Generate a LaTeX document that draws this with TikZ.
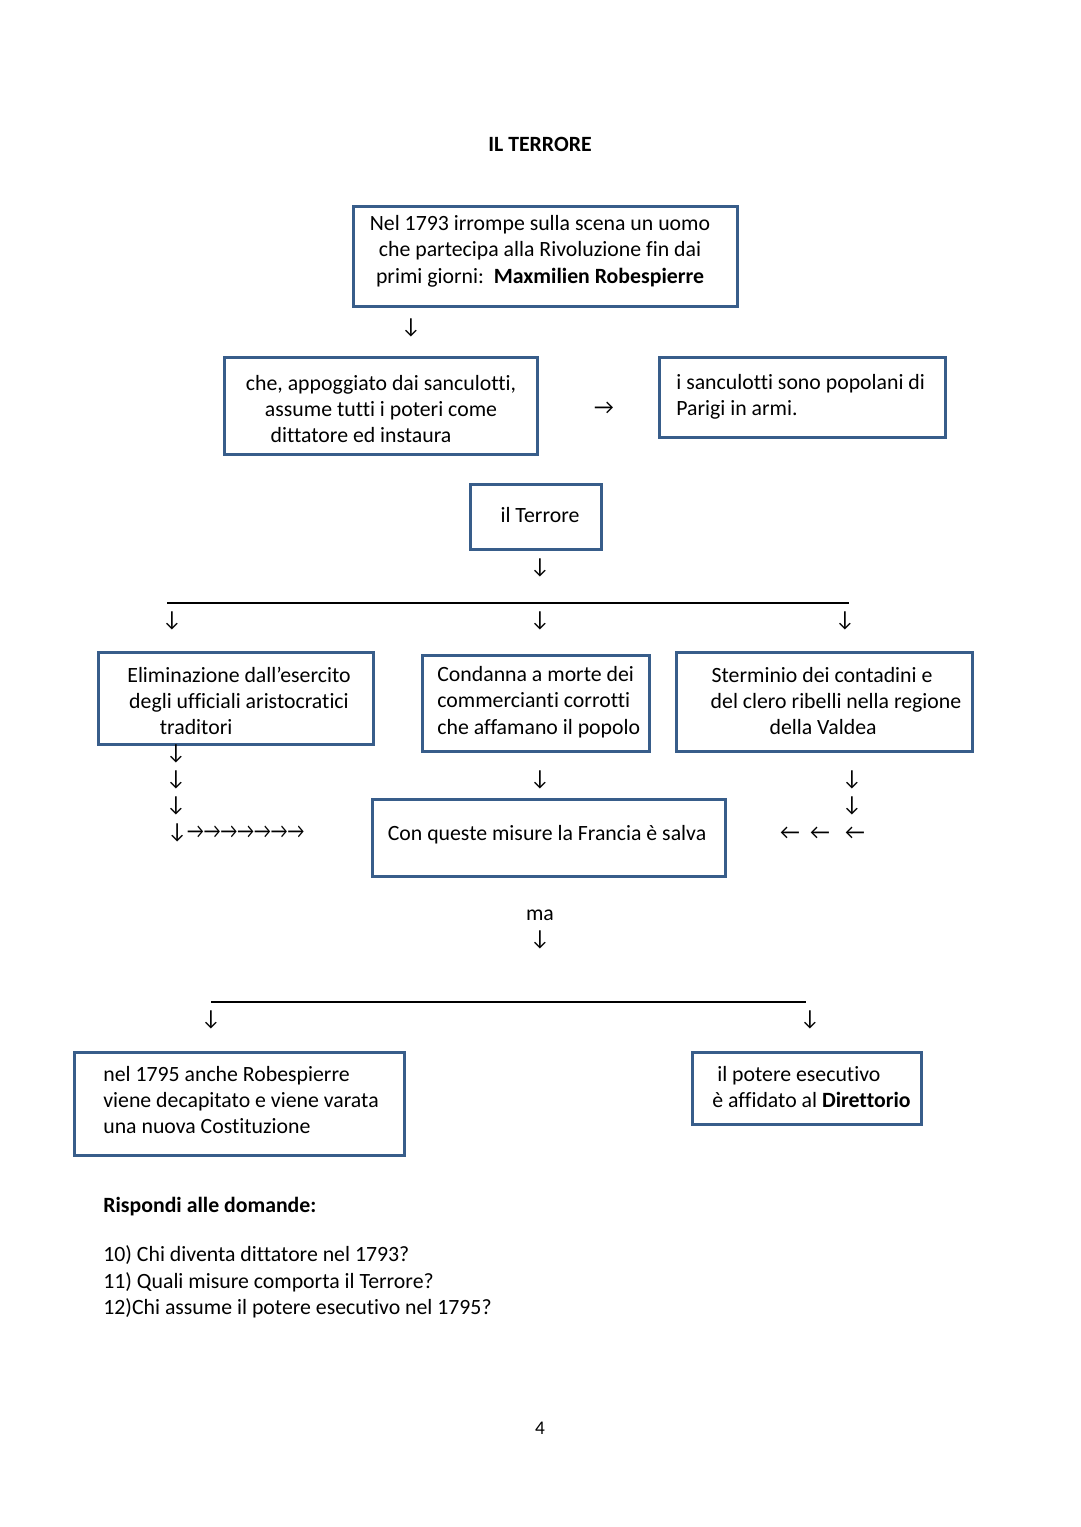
\documentclass[tikz,border=0pt]{standalone}
\usepackage{fontspec}
\setmainfont{Carlito}[Ligatures=NoCommon]
\usetikzlibrary{positioning}
\definecolor{boxblue}{RGB}{56,93,138}

\tikzset{
  box/.style={draw=boxblue,line width=1.6pt,anchor=north west,inner sep=0pt},
  txt/.style={font=\fontsize{12.4}{15}\selectfont,inner sep=0pt,align=center},
  ltxt/.style={txt,align=left,anchor=west},
  arr/.style={font=\fontsize{12.4}{15}\selectfont,inner sep=0pt},
  rule/.style={line width=0.6pt}
}
\newcommand{\ra}{\scalebox{0.85}[1]{→}}

\begin{document}
\begin{tikzpicture}[x=0.02cm,y=-0.02cm]
\useasboundingbox[fill=white] (0,0) rectangle (1080,1527);

% title
\node[txt,font=\fontsize{12.4}{15}\selectfont\bfseries] (title) at (540,144) {IL TERRORE};

% Robespierre
\node[box,minimum width=7.68cm,minimum height=2cm] (robbox) at (352,205) {};
\node[txt] (rob) at (540,251) {Nel 1793 irrompe sulla scena un uomo\\che partecipa alla Rivoluzione fin dai\\primi giorni:\ \ \textbf{Maxmilien Robespierre}};
\node[arr] (a1) at (411,328) {↓};

% sanculotti
\node[box,minimum width=6.26cm,minimum height=1.94cm] (dittbox) at (223,356) {};
\node[txt] (ditt) at (381,409) {che, appoggiato dai sanculotti,\\assume tutti i poteri come\hspace*{11.3pt}\\dittatore ed instaura\hspace*{22.7pt}};
\node[arr] (a2) at (604,408) {→};
\node[box,minimum width=5.72cm,minimum height=1.6cm] (sancbox) at (658,356) {};
\node[ltxt] (sanc) at (676,397) {i sanculotti sono popolani di\\Parigi in armi.};

% il Terrore
\node[box,minimum width=2.62cm,minimum height=1.3cm] (terbox) at (469,483) {};
\node[txt] (ter) at (540,515) {il Terrore};
\node[arr] (a3) at (540,568) {↓};

% first split
\coordinate (s1l) at (167,603);
\coordinate (s1r) at (849,603);
\draw[rule] (s1l) -- (s1r);
\node[arr] (a4) at (172,621) {↓};
\node[arr] (a5) at (540,621) {↓};
\node[arr] (a6) at (845,621) {↓};

% the three measures
\node[box,minimum width=5.5cm,minimum height=1.84cm] (elbox) at (97,651) {};
\node[txt] (el) at (239,701) {Eliminazione dall’esercito\\degli ufficiali aristocratici\\traditori\hspace*{48.8pt}};
\node[box,minimum width=4.54cm,minimum height=1.92cm] (conbox) at (421,654) {};
\node[ltxt] (con) at (437,702) {Condanna a morte dei\\commercianti corrotti\\che affamano il popolo};
\node[box,minimum width=5.92cm,minimum height=1.98cm] (stbox) at (675,651) {};
\node[txt] (st) at (836,701) {Sterminio dei contadini e\hspace*{15.9pt}\\del clero ribelli nella regione\\della Valdea\hspace*{14.7pt}};

% arrows to the result
\node[arr] (b1) at (176,754) {↓};
\node[arr] (b2) at (176,780) {↓};
\node[arr] (b3) at (176,806) {↓};
\node[arr,anchor=west] (b4) at (167,833) {↓\ra\ra\ra\ra\ra\ra\ra};
\node[arr] (c1) at (540,780) {↓};
\node[arr] (d1) at (852,780) {↓};
\node[arr] (d2) at (852,806) {↓};
\node[arr] (d3) at (790,833) {←};
\node[arr] (d4) at (820,833) {←};
\node[arr] (d5) at (855,833) {←};

% result
\node[box,minimum width=7.06cm,minimum height=1.54cm] (salbox) at (371,798) {};
\node[txt] (sal) at (547,835) {Con queste misure la Francia è salva};

\node[txt] (ma) at (540,915) {ma};
\node[arr] (a7) at (540,940) {↓};

% second split
\coordinate (s2l) at (211,1002);
\coordinate (s2r) at (806,1002);
\draw[rule] (s2l) -- (s2r);
\node[arr] (a8) at (211,1020) {↓};
\node[arr] (a9) at (810,1020) {↓};

\node[box,minimum width=6.6cm,minimum height=2.06cm] (finbox) at (73,1051) {};
\node[ltxt] (fin) at (103,1100) {nel 1795 anche Robespierre\\viene decapitato e viene varata\\una nuova Costituzione};
\node[box,minimum width=4.58cm,minimum height=1.44cm] (dirbox) at (691,1051) {};
\node[ltxt] (dir) at (712,1087) {\ il potere esecutivo\\è affidato al \textbf{Direttorio}};

% questions
\node[ltxt,font=\fontsize{12.4}{15}\selectfont\bfseries] (domande) at (103,1207) {Rispondi alle domande:};
\node[ltxt] (quest) at (103,1282) {10) Chi diventa dittatore nel 1793?\\11) Quali misure comporta il Terrore?\\12)Chi assume il potere esecutivo nel 1795?};

\node[txt,font=\fontsize{11}{13}\selectfont] (page) at (540,1428) {4};
\end{tikzpicture}
\end{document}
